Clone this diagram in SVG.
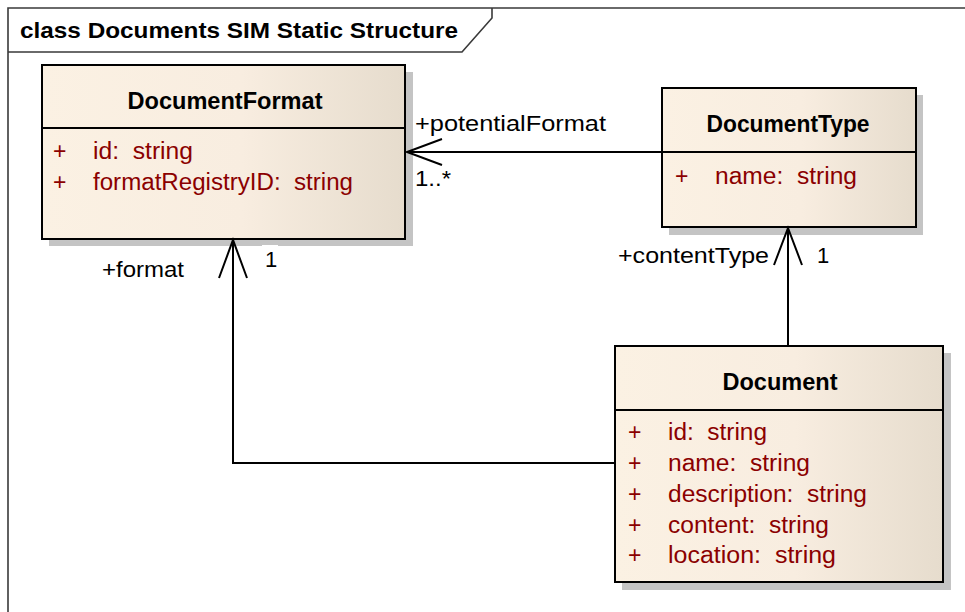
<svg xmlns="http://www.w3.org/2000/svg" width="965" height="612" viewBox="0 0 965 612">
<defs>
<linearGradient id="fill" x1="0" y1="0" x2="1" y2="0">
<stop offset="0" stop-color="#fbf1e3"/>
<stop offset="0.55" stop-color="#f8ede0"/>
<stop offset="1" stop-color="#e6dccd"/>
</linearGradient>
<style>
.frame{fill:none;stroke:#3a3a3a;stroke-width:1.6}
.ftitle{font-family:"Liberation Sans",Arial,sans-serif;font-weight:bold;font-size:22px;fill:#000}
.shadow{fill:#c4c4c4}
.box{fill:url(#fill);stroke:#000;stroke-width:2}
.div{stroke:#000;stroke-width:2}
.title{font-family:"Liberation Sans",Arial,sans-serif;font-weight:bold;font-size:23px;fill:#000;text-anchor:middle}
.attr{font-family:"Liberation Sans",Arial,sans-serif;font-size:23px;fill:#8b0000}
.conn{fill:none;stroke:#000;stroke-width:2}
.lbl{font-family:"Liberation Sans",Arial,sans-serif;font-size:22px;fill:#000}
</style>
</defs>
<rect width="965" height="612" fill="#fff"/>
<g id="frame">
<path class="frame" d="M8,612 V8 H965"/>
<path class="frame" d="M8,52 H462 L492,18 V8"/>
<text class="ftitle" x="20" y="38" textLength="438" lengthAdjust="spacingAndGlyphs">class Documents SIM Static Structure</text>
</g>
<g id="DocumentFormat">
<rect class="shadow" x="49" y="72" width="364" height="174"/>
<rect class="box" x="42" y="65" width="363" height="174"/>
<line class="div" x1="42" y1="128" x2="405" y2="128"/>
<text class="title" x="225" y="109" textLength="195" lengthAdjust="spacingAndGlyphs">DocumentFormat</text>
<text class="attr" x="53" y="159">+</text>
<text class="attr" x="93" y="159" textLength="100" lengthAdjust="spacingAndGlyphs">id:&#160; string</text>
<text class="attr" x="53" y="190">+</text>
<text class="attr" x="93" y="190" textLength="260" lengthAdjust="spacingAndGlyphs">formatRegistryID:&#160; string</text>
</g>
<g id="DocumentType">
<rect class="shadow" x="669" y="95" width="254" height="140"/>
<rect class="box" x="662" y="88" width="254" height="139"/>
<line class="div" x1="662" y1="152" x2="916" y2="152"/>
<text class="title" x="788" y="132" textLength="163" lengthAdjust="spacingAndGlyphs">DocumentType</text>
<text class="attr" x="675" y="184">+</text>
<text class="attr" x="715" y="184" textLength="142" lengthAdjust="spacingAndGlyphs">name:&#160; string</text>
</g>
<g id="Document">
<rect class="shadow" x="622" y="353" width="329" height="237"/>
<rect class="box" x="615" y="346" width="328" height="236"/>
<line class="div" x1="615" y1="410" x2="943" y2="410"/>
<text class="title" x="780" y="390" textLength="115" lengthAdjust="spacingAndGlyphs">Document</text>
<text class="attr" x="628" y="440">+</text>
<text class="attr" x="668" y="440" textLength="99" lengthAdjust="spacingAndGlyphs">id:&#160; string</text>
<text class="attr" x="628" y="471">+</text>
<text class="attr" x="668" y="471" textLength="142" lengthAdjust="spacingAndGlyphs">name:&#160; string</text>
<text class="attr" x="628" y="502">+</text>
<text class="attr" x="668" y="502" textLength="199" lengthAdjust="spacingAndGlyphs">description:&#160; string</text>
<text class="attr" x="628" y="533">+</text>
<text class="attr" x="668" y="533" textLength="161" lengthAdjust="spacingAndGlyphs">content:&#160; string</text>
<text class="attr" x="628" y="563">+</text>
<text class="attr" x="668" y="563" textLength="168" lengthAdjust="spacingAndGlyphs">location:&#160; string</text>
</g>
<g id="connectors">
<line class="conn" x1="662" y1="152" x2="407" y2="152"/>
<polyline class="conn" points="442,139 407,152 442,165"/>
<line class="conn" x1="788" y1="346" x2="788" y2="228"/>
<polyline class="conn" points="774,265 788,228 802,265"/>
<polyline class="conn" points="615,463 233,463 233,240"/>
<polyline class="conn" points="219,278 233,240 247,278"/>
<rect x="262" y="245" width="16" height="24" fill="#fff"/>
<text class="lbl" x="415" y="131" textLength="191" lengthAdjust="spacingAndGlyphs">+potentialFormat</text>
<text class="lbl" x="415" y="186" textLength="36" lengthAdjust="spacingAndGlyphs">1..*</text>
<text class="lbl" x="618" y="263" textLength="151" lengthAdjust="spacingAndGlyphs">+contentType</text>
<text class="lbl" x="817" y="263">1</text>
<text class="lbl" x="102" y="277" textLength="82" lengthAdjust="spacingAndGlyphs">+format</text>
<text class="lbl" x="265" y="267">1</text>
</g>
</svg>
